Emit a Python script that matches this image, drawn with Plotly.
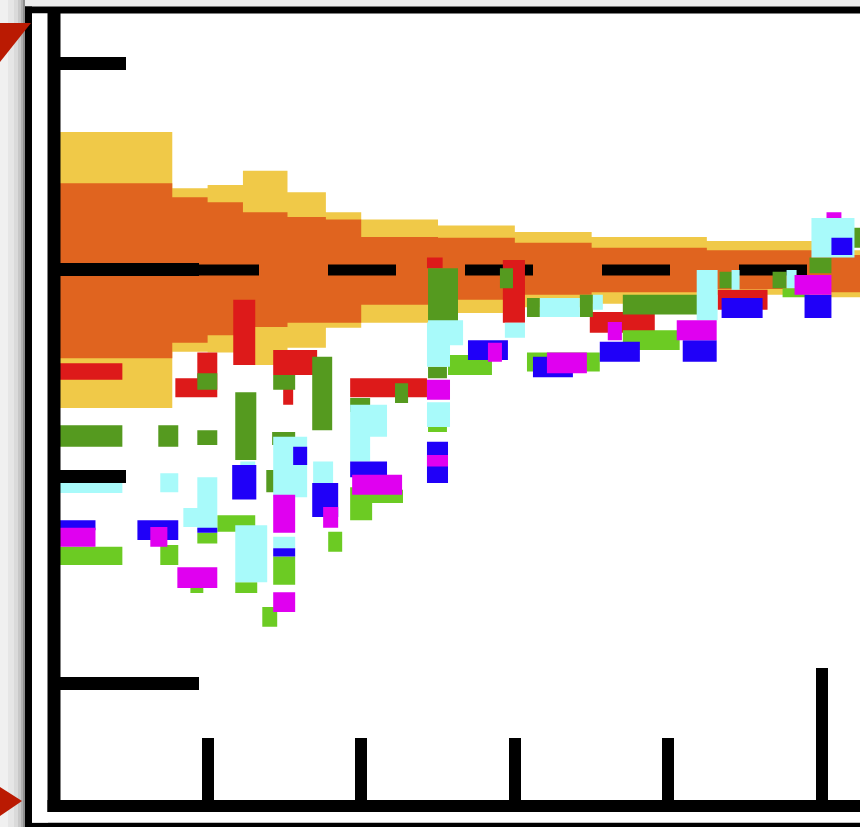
import plotly.graph_objects as go

# ---------------- data (x: bin units, y: ratio) ----------------
band_edges = [0, 0.77, 1.0, 1.23, 1.52, 1.77, 2.0, 2.5, 3.0, 3.5, 4.25, 5.0, 5.3]
yellow_hi = [1.167, 1.099, 1.103, 1.120, 1.094, 1.070, 1.061, 1.054, 1.046, 1.040, 1.035, 1.024]
orange_hi = [1.105, 1.088, 1.082, 1.070, 1.064, 1.061, 1.040, 1.039, 1.033, 1.027, 1.024, 1.018]
orange_lo = [0.893, 0.912, 0.921, 0.931, 0.936, 0.936, 0.958, 0.964, 0.970, 0.973, 0.977, 0.973]
yellow_lo = [0.833, 0.901, 0.900, 0.885, 0.906, 0.930, 0.936, 0.948, 0.955, 0.959, 0.970, 0.967]

ref_x = [0, 5.3]
ref_y = [1.0, 1.0]

red_x0 = [0, 0.933, 0.79, 1.167, 1.427, 1.492, 1.928, 2.428, 2.922, 3.488, 4.32]
red_x1 = [0.445, 1.063, 1.063, 1.31, 1.713, 1.557, 2.428, 2.53, 3.066, 3.911, 4.645]
red_lo = [0.867, 0.846, 0.846, 0.885, 0.873, 0.837, 0.846, 1.002, 0.936, 0.924, 0.952]
red_hi = [0.887, 0.900, 0.869, 0.964, 0.903, 0.873, 0.869, 1.015, 1.012, 0.949, 0.976]

dgreen_x0 = [0, 0.679, 0.933, 0.933, 1.18, 1.427, 1.681, 1.928, 2.22, 1.42, 1.382, 2.435, 2.435,
             2.903, 3.079, 3.423, 3.703, 4.333, 4.678, 4.918, 5.126]
dgreen_x1 = [0.445, 0.809, 1.063, 1.063, 1.317, 1.57, 1.811, 2.058, 2.305, 1.57, 1.473, 2.63, 2.558,
             2.988, 3.163, 3.508, 4.223, 4.418, 4.769, 5.061, 5.3]
dgreen_lo = [0.786, 0.786, 0.788, 0.855, 0.770, 0.855, 0.806, 0.828, 0.839, 0.788, 0.731, 0.936, 0.869,
             0.978, 0.943, 0.943, 0.946, 0.978, 0.978, 0.996, 1.027]
dgreen_hi = [0.812, 0.812, 0.806, 0.875, 0.852, 0.873, 0.895, 0.845, 0.863, 0.804, 0.758, 1.002, 0.883,
             1.002, 0.966, 0.970, 0.970, 0.998, 0.998, 1.015, 1.051]

lgreen_x0 = [0, 0.692, 0.888, 0.933, 1.063, 1.18, 1.427, 1.356, 1.785, 1.928, 2.071, 2.435, 2.565,
             3.079, 3.703, 4.743]
lgreen_x1 = [0.445, 0.809, 0.972, 1.063, 1.31, 1.323, 1.57, 1.453, 1.876, 2.071, 2.272, 2.558, 2.851,
             3.553, 4.073, 4.918]
lgreen_lo = [0.643, 0.643, 0.609, 0.669, 0.683, 0.609, 0.619, 0.568, 0.659, 0.697, 0.718, 0.804, 0.873,
             0.877, 0.903, 0.967]
lgreen_hi = [0.665, 0.667, 0.616, 0.682, 0.703, 0.622, 0.653, 0.592, 0.683, 0.737, 0.734, 0.810, 0.897,
             0.900, 0.927, 0.978]

cyan_x0 = [0, 0.692, 0.933, 0.842, 1.18, 1.213, 1.427, 1.427, 1.687, 1.928, 1.928, 2.428, 2.435, 2.428,
           2.935, 3.163, 3.508, 4.184, 4.411, 4.769, 4.931]
cyan_x1 = [0.445, 0.809, 1.063, 1.063, 1.388, 1.31, 1.648, 1.57, 1.817, 2.168, 2.058, 2.578, 2.663, 2.578,
           3.066, 3.423, 3.573, 4.32, 4.463, 4.834, 5.211]
cyan_lo = [0.730, 0.731, 0.685, 0.689, 0.622, 0.754, 0.725, 0.663, 0.742, 0.798, 0.768, 0.883, 0.909, 0.810,
           0.918, 0.943, 0.952, 0.939, 0.976, 0.978, 1.015]
cyan_hi = [0.754, 0.754, 0.749, 0.712, 0.691, 0.768, 0.798, 0.677, 0.768, 0.837, 0.798, 0.936, 0.939, 0.840,
           0.936, 0.966, 0.970, 1.000, 1.000, 1.000, 1.063]

blue_x0 = [0, 0.543, 0.933, 1.16, 1.557, 1.427, 1.681, 1.928, 2.428, 2.695, 3.118, 3.553, 4.093, 4.346,
           4.886, 5.061]
blue_x1 = [0.27, 0.809, 1.063, 1.317, 1.648, 1.57, 1.85, 2.168, 2.565, 2.955, 3.378, 3.814, 4.314, 4.613,
           5.061, 5.197]
blue_lo = [0.685, 0.673, 0.682, 0.722, 0.764, 0.653, 0.701, 0.749, 0.742, 0.891, 0.870, 0.889, 0.889, 0.942,
           0.942, 1.018]
blue_hi = [0.697, 0.697, 0.688, 0.764, 0.786, 0.663, 0.742, 0.768, 0.792, 0.915, 0.895, 0.913, 0.915, 0.966,
           0.970, 1.039]

mag_x0 = [0, 0.627, 0.803, 1.427, 1.427, 1.752, 1.941, 2.428, 2.428, 2.825, 3.209, 3.605, 4.054, 4.821, 5.029]
mag_x1 = [0.27, 0.738, 1.063, 1.57, 1.57, 1.85, 2.266, 2.578, 2.565, 2.916, 3.469, 3.697, 4.314, 5.061, 5.126]
mag_lo = [0.665, 0.665, 0.615, 0.682, 0.586, 0.688, 0.728, 0.843, 0.762, 0.889, 0.875, 0.915, 0.915, 0.970, 1.063]
mag_hi = [0.688, 0.689, 0.640, 0.728, 0.610, 0.713, 0.752, 0.867, 0.776, 0.912, 0.900, 0.937, 0.939, 0.994, 1.070]

x_range = [0, 5.247]
y_range = [0.3511, 1.3111]

# ---------------- helpers ----------------
def band_polygon(edges, lo, hi):
    xs, ys = [], []
    for i in range(len(hi)):
        xs += [edges[i], edges[i + 1]]
        ys += [hi[i], hi[i]]
    for i in reversed(range(len(lo))):
        xs += [edges[i + 1], edges[i]]
        ys += [lo[i], lo[i]]
    xs.append(xs[0]); ys.append(ys[0])
    return xs, ys


def rect_paths(x0, x1, lo, hi):
    xs, ys = [], []
    for a, b, c, d in zip(x0, x1, lo, hi):
        xs += [a, b, b, a, a, None]
        ys += [c, c, d, d, c, None]
    return xs, ys


def filled(xs, ys, color):
    return go.Scatter(x=xs, y=ys, mode="lines", fill="toself", fillcolor=color,
                      line=dict(width=0, color=color), hoverinfo="skip", showlegend=False)


fig = go.Figure()
fig.add_trace(filled(*band_polygon(band_edges, yellow_lo, yellow_hi), "#F0C948"))
fig.add_trace(filled(*band_polygon(band_edges, orange_lo, orange_hi), "#E0641F"))
fig.add_trace(go.Scatter(x=ref_x, y=ref_y, mode="lines",
                         line=dict(color="black", width=11, dash="68px,69px"),
                         hoverinfo="skip", showlegend=False))
fig.add_trace(filled(*rect_paths(red_x0, red_x1, red_lo, red_hi), "#DD1A1A"))
fig.add_trace(filled(*rect_paths(dgreen_x0, dgreen_x1, dgreen_lo, dgreen_hi), "#559A1F"))
fig.add_trace(filled(*rect_paths(lgreen_x0, lgreen_x1, lgreen_lo, lgreen_hi), "#6CCB23"))
fig.add_trace(filled(*rect_paths(cyan_x0, cyan_x1, cyan_lo, cyan_hi), "#A8FAFA"))
fig.add_trace(filled(*rect_paths(blue_x0, blue_x1, blue_lo, blue_hi), "#2000F8"))
fig.add_trace(filled(*rect_paths(mag_x0, mag_x1, mag_lo, mag_hi), "#E000F0"))

# ---------------- decoration (frame, shadow, pointers) ----------------
W, H = 860, 827
ML, MR, MT, MB = 54, 0, 13, 21
PW, PH = W - ML - MR, H - MT - MB


def px(x):
    return (x - ML) / PW


def py(y):
    return (H - MB - y) / PH


shapes = []


def prect(x0, x1, y0, y1, color):
    shapes.append(dict(type="rect", xref="paper", yref="paper",
                       x0=px(x0), x1=px(x1), y0=py(y1), y1=py(y0),
                       fillcolor=color, line=dict(width=0), layer="above"))


# left drop shadow (stepped gradient)
for a, b, c in [(0, 8, "#F0F0F0"), (8, 14, "#E6E6E6"), (14, 18, "#DADADA"),
                (18, 21, "#C8C8C8"), (21, 23, "#B0B0B0"), (23, 25.5, "#8E8E8E")]:
    prect(a, b, 0, H, c)
prect(25, W, 0, 6.5, "#ECECEC")
# outer border
prect(25, 32, 6.5, H, "black")
prect(25, W, 6.5, 13.5, "black")
prect(25, W, 822.5, H, "black")
# white gap inside border (left and bottom)
prect(32, 48, 13.5, 822.5, "white")
prect(32, W, 812, 822.5, "white")
# axis lines
prect(47.5, 60.5, 13, 812, "black")
prect(47.5, W, 800, 812, "black")


def tri(pts, color):
    p = "M " + " L ".join(f"{px(a):.5f},{py(b):.5f}" for a, b in pts) + " Z"
    shapes.append(dict(type="path", xref="paper", yref="paper", path=p,
                       fillcolor=color, line=dict(width=0), layer="above"))


tri([(0, 23), (31, 23), (0, 62)], "#BA1A02")
tri([(0, 787), (22, 801), (0, 816)], "#BA1A02")

fig.update_layout(
    width=W, height=H,
    margin=dict(l=ML, r=MR, t=MT, b=MB, pad=0),
    paper_bgcolor="white", plot_bgcolor="white",
    showlegend=False,
    shapes=shapes,
    xaxis=dict(range=x_range, showgrid=False, zeroline=False, showline=False,
               showticklabels=False, ticks="inside", tick0=0, dtick=5,
               ticklen=138, tickwidth=12, tickcolor="black",
               minor=dict(ticks="inside", dtick=1, tick0=0, ticklen=68, tickwidth=12,
                          tickcolor="black", showgrid=False)),
    yaxis=dict(range=y_range, showgrid=False, zeroline=False, showline=False,
               showticklabels=False, ticks="inside", tick0=0, dtick=0.5,
               ticklen=145, tickwidth=13, tickcolor="black",
               minor=dict(ticks="inside", dtick=0.25, tick0=0, ticklen=72, tickwidth=13,
                          tickcolor="black", showgrid=False)),
)

fig.write_html("out.html",
               config={"displayModeBar": False},
               post_script="document.body.style.margin='0px';document.body.style.overflow='hidden';")
